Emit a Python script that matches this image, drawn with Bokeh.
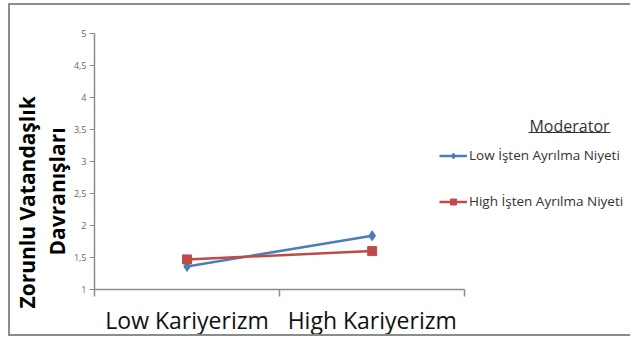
from bokeh.plotting import figure
from bokeh.models import (ColumnDataSource, FixedTicker, Label, Legend, LegendItem,
                          BoxAnnotation, Range1d, Title)
from bokeh.embed import file_html
from bokeh.resources import INLINE

# ---- data ----
categories = ["Low Kariyerizm", "High Kariyerizm"]
series_names = ["Low İşten Ayrılma Niyeti", "High İşten Ayrılma Niyeti"]
low_values = [1.36, 1.84]
high_values = [1.47, 1.60]
y_ticks = [1, 1.5, 2, 2.5, 3, 3.5, 4, 4.5, 5]
y_tick_labels = ["1", "1,5", "2", "2,5", "3", "3,5", "4", "4,5", "5"]
y_title = ["Zorunlu Vatandaşlık", "Davranışları"]
legend_title = "Moderator"

cat_pos = [i + 0.5 for i in range(len(categories))]

BLUE = "#4A7EBB"
RED = "#BE4B48"
GRAY = "#8c8c8c"

p = figure(width=622, height=333, output_backend="svg", toolbar_location=None,
           x_range=Range1d(0, 2.906), y_range=Range1d(1, 5),
           min_border_left=83, min_border_right=0, min_border_top=28,
           min_border_bottom=47)
p.styles = {"margin-left": "8px", "margin-top": "3px",
            "border-left": "2px solid #8c8c8c", "border-top": "2px solid #8c8c8c",
            "border-bottom": "2px solid #8c8c8c"}
p.outline_line_color = None
p.grid.visible = False
p.background_fill_color = "white"
p.border_fill_color = "white"

src_low = ColumnDataSource(dict(x=cat_pos, y=low_values))
src_high = ColumnDataSource(dict(x=cat_pos, y=high_values))

l1 = p.line("x", "y", source=src_low, line_color=BLUE, line_width=2.5)
m1 = p.scatter("x", "y", source=src_low, marker="diamond", size=10,
               fill_color=BLUE, line_color=BLUE)
l2 = p.line("x", "y", source=src_high, line_color=RED, line_width=2.5)
m2 = p.scatter("x", "y", source=src_high, marker="square", size=9,
               fill_color=RED, line_color=RED)

# x axis
xa = p.xaxis[0]
xa.bounds = (0, len(categories))
xa.ticker = FixedTicker(ticks=cat_pos, minor_ticks=list(range(len(categories) + 1)))
xa.major_label_overrides = {v: c for v, c in zip(cat_pos, categories)}
xa.major_tick_line_color = None
xa.minor_tick_in = 0
xa.minor_tick_out = 7
xa.minor_tick_line_color = GRAY
xa.axis_line_color = GRAY
xa.axis_line_width = 1.5
xa.minor_tick_line_width = 1.5
xa.major_label_text_font = "Open Sans"
xa.major_label_text_font_size = "23px"
xa.major_label_text_color = "#111111"
xa.major_label_standoff = 7

# y axis
ya = p.yaxis[0]
ya.ticker = FixedTicker(ticks=y_ticks, minor_ticks=[])
ya.major_label_overrides = {v: t for v, t in zip(y_ticks, y_tick_labels)}
ya.major_tick_in = 0
ya.major_tick_out = 5
ya.major_tick_line_color = GRAY
ya.axis_line_color = GRAY
ya.axis_line_width = 1.5
ya.major_label_text_font = "Open Sans"
ya.major_label_text_font_size = "9px"
ya.major_label_text_color = "#666666"
ya.major_label_standoff = 3

# y title (two rotated lines, as side titles)
p.add_layout(Title(text=y_title[1], align="left", offset=34, standoff=0,
                   vertical_align="bottom", text_font="Open Sans",
                   text_font_style="bold", text_font_size="21px",
                   text_color="#000000"), "left")
p.add_layout(Title(text=y_title[0], align="left", offset=-19, standoff=0,
                   vertical_align="bottom", text_font="Open Sans",
                   text_font_style="bold", text_font_size="21px",
                   text_color="#000000"), "left")

# legend
leg = Legend(items=[LegendItem(label=series_names[0], renderers=[l1, m1]),
                    LegendItem(label=series_names[1], renderers=[l2, m2])],
             location=(345, 79), orientation="vertical",
             padding=0, margin=0, spacing=28,
             glyph_width=28, glyph_height=15, label_height=15,
             label_standoff=2, label_text_font="Open Sans",
             label_text_font_size="13.5px", label_text_color="#333333",
             border_line_color=None, background_fill_alpha=0)
p.add_layout(leg)

p.add_layout(Label(x=475, y=164, x_units="screen", y_units="screen",
                   text=legend_title, text_align="center", text_baseline="middle",
                   text_font="Open Sans", text_font_size="16px", text_color="#333333"))
p.add_layout(BoxAnnotation(left=434, right=516, bottom=156.5, top=157.5,
                           left_units="screen", right_units="screen",
                           bottom_units="screen", top_units="screen",
                           fill_color="#333333", fill_alpha=1, line_color=None))

open("out.html", "w").write(file_html(p, INLINE))
